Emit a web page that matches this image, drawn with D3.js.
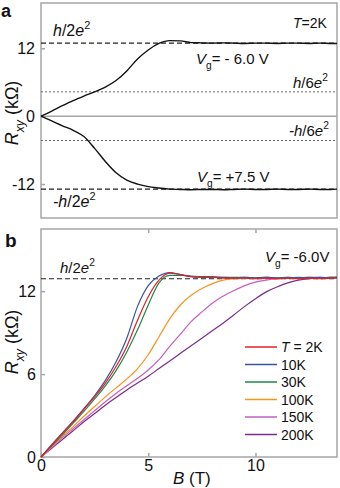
<!DOCTYPE html>
<html>
<head>
<meta charset="utf-8">
<script src="https://cdn.jsdelivr.net/npm/d3@7"></script>
<style>
  body { margin: 0; background: #fff; }
  svg { display: block; font-family: "Liberation Sans", Arial, sans-serif; }
</style>
</head>
<body>
<div id="chart"></div>
<script>
// magnetic field (T)
const bField = [0,0.5,1,1.5,2,2.5,3,3.5,4,4.5,5,5.5,6,6.5,7,7.5,8,8.5,9,9.5,10,10.5,11,11.5,12,12.5,13,13.5,13.8];

// panel a, T = 2K (kOhm)
const rVgNeg = [0,0.9,1.85,2.75,3.55,4.3,5.15,6.3,8.0,10.1,11.7,12.85,13.35,13.3,13.0,12.95,12.9,12.95,12.9,12.85,12.9,12.9,12.85,12.9,12.9,12.85,12.9,12.85,12.85];
const rVgPos = [0,-0.85,-1.7,-2.5,-3.6,-5.7,-8.0,-10.0,-11.3,-12.0,-12.45,-12.7,-12.9,-12.95,-13.0,-12.95,-12.95,-13.0,-12.95,-12.9,-12.95,-12.95,-12.9,-12.95,-12.95,-12.9,-12.95,-12.95,-12.9];

// panel b, Vg = -6.0V (kOhm)
const r2K   = [0,0.85,1.7,2.55,3.45,4.35,5.35,6.55,8.0,9.9,11.6,12.8,13.3,13.2,13.05,13.0,13.0,12.95,12.95,12.95,12.9,12.95,12.9,12.95,12.9,12.95,12.9,12.95,12.95];
const r10K  = [0,0.9,1.75,2.6,3.5,4.45,5.55,6.9,8.6,10.9,12.4,13.1,13.35,13.2,13.05,13.0,13.0,13.0,12.95,13.0,12.95,13.0,12.95,12.95,13.0,12.95,13.0,12.95,13.0];
const r30K  = [0,0.8,1.6,2.45,3.3,4.2,5.15,6.25,7.6,9.2,11.0,12.6,13.15,13.15,13.1,13.05,13.05,13.0,13.0,13.0,12.95,13.0,12.95,13.0,12.95,13.0,12.95,13.0,13.0];
const r100K = [0,0.75,1.5,2.2,2.95,3.65,4.35,5.0,5.65,6.4,7.4,8.7,10.0,11.0,11.7,12.2,12.55,12.8,12.9,12.95,12.95,13.0,12.95,13.0,12.95,13.0,12.95,13.0,13.0];
const r150K = [0,0.7,1.4,2.05,2.7,3.35,4.0,4.6,5.15,5.7,6.3,7.05,8.0,8.9,9.8,10.5,11.15,11.65,12.05,12.4,12.65,12.8,12.9,12.95,12.95,13.0,13.0,12.95,13.0];
const r200K = [0,0.63,1.27,1.9,2.55,3.15,3.75,4.3,4.85,5.35,5.85,6.4,6.95,7.5,8.05,8.6,9.15,9.7,10.3,10.9,11.45,11.95,12.3,12.6,12.8,12.9,12.95,13.0,13.0];
const tempLabels = ["2K","10K","30K","100K","150K","200K"];

const plateau2 = 12.9;  // h/2e^2
const plateau6 = 4.3;   // h/6e^2
const yTicksA = [-12, 0, 12];
const yTicksB = [0, 6, 12];
const xTicksB = [0, 5, 10];

const tempColors = ["#e41f26", "#3953a4", "#1b8a4b", "#f7941d", "#c45fc0", "#7a2c8f"];
const grey = "#a6a6a6";

const width = 340, height = 488;

const svg = d3.select("#chart")
  .append("svg")
  .attr("width", width)
  .attr("height", height);

const x = d3.scaleLinear().domain([0, 13.8]).range([41, 337]);
const yA = d3.scaleLinear().domain([-18, 20]).range([218, 3]);
const yB = d3.scaleLinear().domain([0, 16.5]).range([457, 229]);

// text with italic / sub / sup pieces
function rich(g, px, py, size, segs, anchor) {
  const t = g.append("text")
    .attr("x", px).attr("y", py)
    .attr("font-size", size)
    .attr("fill", "#111")
    .attr("text-anchor", anchor || "start");
  let cur = 0;
  segs.forEach(s => {
    const shift = s.sup ? -0.45 * size : s.sub ? 0.32 * size : 0;
    t.append("tspan")
      .attr("dy", shift - cur)
      .attr("font-size", (s.sup || s.sub) ? size * 0.68 : size)
      .attr("font-style", s.i ? "italic" : "normal")
      .text(s.t);
    cur = shift;
  });
  return t;
}

const hOver = (n, neg) => [
  { t: (neg ? "-" : "") + "h", i: true }, { t: "/" + n }, { t: "e", i: true }, { t: "2", sup: true }
];
const rLabel = [{ t: "R", i: true }, { t: "xy", i: true, sub: true }, { t: " (kΩ)" }];

function frame(y) {
  svg.append("rect")
    .attr("x", x.range()[0]).attr("y", y.range()[1])
    .attr("width", x.range()[1] - x.range()[0])
    .attr("height", y.range()[0] - y.range()[1])
    .attr("fill", "none").attr("stroke", grey).attr("stroke-width", 1.5);
}

function styleAxis(g) {
  g.select(".domain").remove();
  g.selectAll(".tick line").attr("stroke", grey).attr("stroke-width", 1.5);
  g.selectAll(".tick text").attr("fill", "#111").attr("font-size", 16)
    .attr("font-family", "Liberation Sans, Arial, sans-serif");
}

// ---------- panel a ----------
frame(yA);

svg.append("line")
  .attr("x1", x.range()[0]).attr("x2", x.range()[1])
  .attr("y1", yA(0)).attr("y2", yA(0))
  .attr("stroke", grey).attr("stroke-width", 1.5);

svg.append("g")
  .attr("transform", `translate(${x.range()[0]},0)`)
  .call(d3.axisLeft(yA).tickValues(yTicksA).tickSize(-4).tickPadding(6).tickFormat(d => String(d)))
  .call(styleAxis);

[plateau2, -plateau2].forEach(v => {
  svg.append("line")
    .attr("x1", x.range()[0]).attr("x2", x.range()[1])
    .attr("y1", yA(v)).attr("y2", yA(v))
    .attr("stroke", "#222").attr("stroke-width", 1.2).attr("stroke-dasharray", "5,3");
});
[plateau6, -plateau6].forEach(v => {
  svg.append("line")
    .attr("x1", x.range()[0]).attr("x2", x.range()[1])
    .attr("y1", yA(v)).attr("y2", yA(v))
    .attr("stroke", "#666").attr("stroke-width", 1).attr("stroke-dasharray", "2,2");
});

const lineA = d3.line().curve(d3.curveMonotoneX).x((d, i) => x(bField[i])).y(d => yA(d));
[rVgNeg, rVgPos].forEach(s => {
  svg.append("path")
    .attr("d", lineA(s))
    .attr("fill", "none").attr("stroke", "#111").attr("stroke-width", 1.4);
});

rich(svg, 1, 17, 18, [{ t: "a" }]).attr("font-weight", "bold");
rich(svg, 53, 36, 16, hOver(2));
rich(svg, 293, 28, 14, [{ t: "T", i: true }, { t: "=2K" }]);
rich(svg, 196, 64, 15, [{ t: "V", i: true }, { t: "g", sub: true }, { t: "= - 6.0 V" }]);
rich(svg, 293, 88, 15, hOver(6));
rich(svg, 289, 136, 15, hOver(6, true));
rich(svg, 197, 182, 15, [{ t: "V", i: true }, { t: "g", sub: true }, { t: "= +7.5 V" }]);
rich(svg, 53, 207, 16, hOver(2, true));
rich(svg, 0, 0, 18, rLabel, "middle").attr("transform", "translate(18,113) rotate(-90)");

// ---------- panel b ----------
frame(yB);

svg.append("g")
  .attr("transform", `translate(${x.range()[0]},0)`)
  .call(d3.axisLeft(yB).tickValues(yTicksB).tickSize(-4).tickPadding(5))
  .call(styleAxis);

svg.append("g")
  .attr("transform", `translate(0,${yB.range()[0]})`)
  .call(d3.axisBottom(x).tickValues(xTicksB).tickSize(-4).tickPadding(3))
  .call(styleAxis);

svg.append("g")
  .attr("transform", `translate(0,${yB.range()[1]})`)
  .call(d3.axisTop(x).tickValues(xTicksB.slice(1)).tickSize(-4).tickFormat(""))
  .call(styleAxis);

svg.append("line")
  .attr("x1", x.range()[0]).attr("x2", x.range()[1])
  .attr("y1", yB(plateau2)).attr("y2", yB(plateau2))
  .attr("stroke", "#222").attr("stroke-width", 1.2).attr("stroke-dasharray", "5,3");

const seriesB = [r2K, r10K, r30K, r100K, r150K, r200K];
const lineB = d3.line().curve(d3.curveMonotoneX).x((d, i) => x(bField[i])).y(d => yB(d));
// draw hottest first so low-T curves sit on top
seriesB.map((s, i) => i).reverse().forEach(i => {
  svg.append("path")
    .attr("d", lineB(seriesB[i]))
    .attr("fill", "none").attr("stroke", tempColors[i]).attr("stroke-width", 1.2);
});

const legend = svg.append("g").attr("transform", "translate(245,347)");
tempLabels.forEach((t, i) => {
  const row = legend.append("g").attr("transform", `translate(0,${i * 17.5})`);
  row.append("line").attr("x1", 0).attr("x2", 32)
    .attr("stroke", tempColors[i]).attr("stroke-width", 1.5);
  const segs = i === 0 ? [{ t: "T", i: true }, { t: " = " + t }] : [{ t: t }];
  rich(row, 36, 5, 14, segs);
});

rich(svg, 5, 247, 19, [{ t: "b" }]).attr("font-weight", "bold");
rich(svg, 60, 273, 15, hOver(2));
rich(svg, 265, 262, 15, [{ t: "V", i: true }, { t: "g", sub: true }, { t: "= -6.0V" }]);
rich(svg, 0, 0, 18, rLabel, "middle").attr("transform", "translate(18,342) rotate(-90)");
rich(svg, 173, 484, 17, [{ t: "B", i: true }, { t: " (T)" }]);
</script>
</body>
</html>
